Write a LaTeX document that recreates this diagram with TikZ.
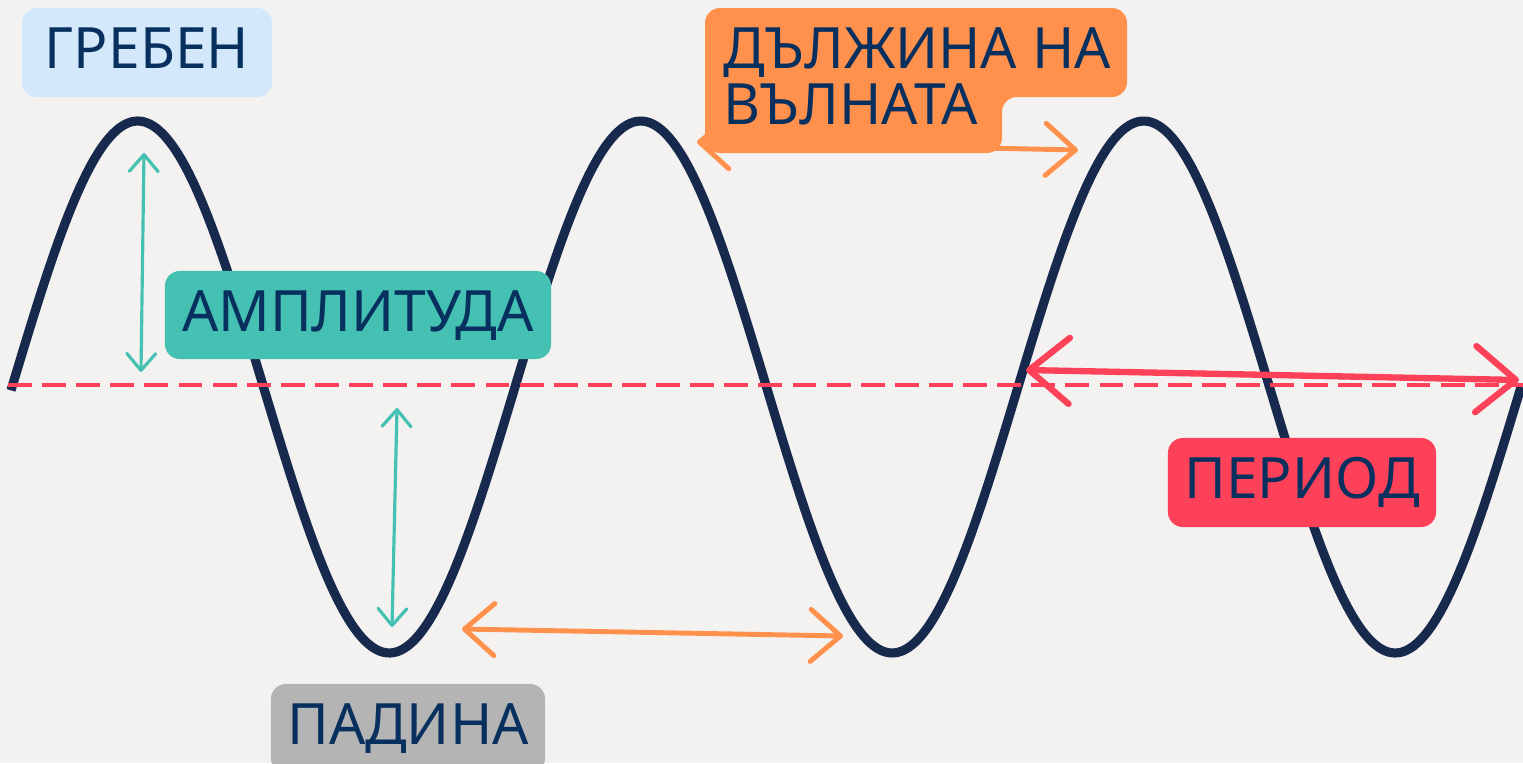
\documentclass[tikz,border=0pt]{standalone}
\usepackage{fontspec}
\setmainfont{Noto Sans}[Script=Cyrillic, Language=Bulgarian]
\usepackage{tikz}
\usetikzlibrary{positioning, arrows.meta}
\usepackage{xcolor}
\definecolor{wavenavy}{HTML}{172A4E}
\definecolor{textnavy}{HTML}{08305F}
\definecolor{paper}{HTML}{F4F2F0}
\definecolor{crestblue}{HTML}{D3E9FB}
\definecolor{ampteal}{HTML}{45C1B3}
\definecolor{lenorange}{HTML}{FF914D}
\definecolor{periodred}{HTML}{FC4159}
\definecolor{troughgray}{HTML}{B4B4B4}

\begin{document}
\begin{tikzpicture}[x=0.01cm, y=-0.01cm,
    tag/.style={rounded corners=0.15cm, inner sep=0pt, text=textnavy,
                font=\fontsize{16.2}{19}\selectfont,
                text height=12pt, text depth=2.8pt},
    wavetext/.style={anchor=base west, inner sep=0pt, text=textnavy,
                font=\fontsize{16.2}{19}\selectfont},
    ampline/.style={draw=ampteal, line width=0.9pt,
                {Straight Barb[length=4.8pt, width=8.2pt, round]}-{Straight Barb[length=4.8pt, width=8.2pt, round]}},
    lenline/.style={draw=lenorange, line width=1.4pt,
                {Straight Barb[length=8.5pt, width=14.8pt, round]}-{Straight Barb[length=8.5pt, width=14.8pt, round]}},
    perline/.style={draw=periodred, line width=1.8pt,
                {Straight Barb[length=11.4pt, width=18.8pt, round]}-{Straight Barb[length=11.4pt, width=18.8pt, round]}}]
  \clip (0,0) rectangle (1523,763);
  \fill[paper] (0,0) rectangle (1523,763);

  % wave and axis
  \draw[wavenavy, line width=2.6pt]
        plot[domain=11:1521, samples=240, smooth] (\x, {387-266*sin((\x-12)*0.715706)});
  \draw[periodred, line width=1.4pt, dash pattern=on 6.8pt off 2.9pt] (8,385) -- (1523,385);

  % end points of the arrows
  \coordinate (ampA) at (144,153);
  \coordinate (ampB) at (141,372);
  \coordinate (ampC) at (397,408);
  \coordinate (ampD) at (392,627);
  \coordinate (lenA) at (462,629);
  \coordinate (lenB) at (843,636);
  \coordinate (lenC) at (697,142);
  \coordinate (lenD) at (1078,150);
  \coordinate (perA) at (1026,370);
  \coordinate (perB) at (1519,380);

  \draw[lenline] (lenC) -- (lenD);

  % labels
  \node[tag, fill=crestblue, minimum width=2.5cm, minimum height=0.89cm]
        (crest) at (147,52.5) {ГРЕБЕН};
  \node[tag, fill=ampteal, minimum width=3.86cm, minimum height=0.88cm]
        (amp) at (358,315) {АМПЛИТУДА};
  \node[tag, fill=periodred, minimum width=2.68cm, minimum height=0.89cm]
        (period) at (1302,482.5) {ПЕРИОД};
  \node[tag, fill=troughgray, minimum width=2.74cm, minimum height=0.89cm]
        (trough) at (408,728.5) {ПАДИНА};
  \fill[lenorange, rounded corners=0.15cm]
        (705,8) -- (1127,8) -- (1127,97) -- (1002,97) -- (1002,153) -- (705,153) -- cycle;
  \node[wavetext] (len1) at (723,68) {ДЪЛЖИНА НА};
  \node[wavetext] (len2) at (723,124) {ВЪЛНАТА};

  \draw[ampline] (ampA) -- (ampB);
  \draw[ampline] (ampC) -- (ampD);
  \draw[lenline] (lenA) -- (lenB);
  \draw[perline] (perA) -- (perB);
\end{tikzpicture}
\end{document}
